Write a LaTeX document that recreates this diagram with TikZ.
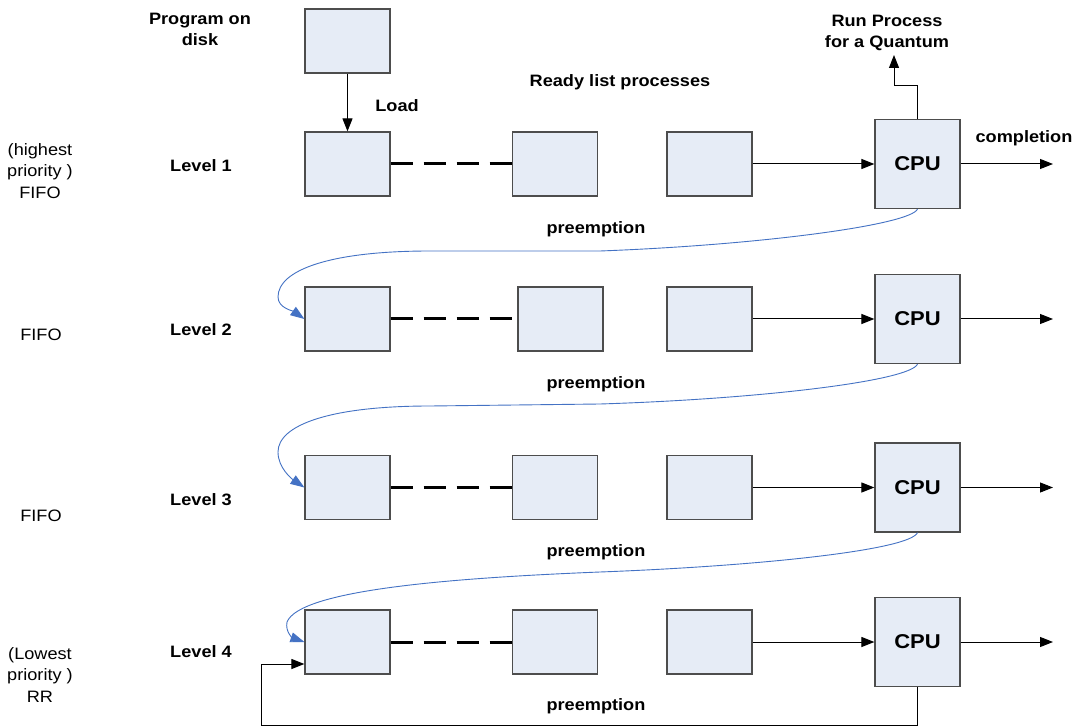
\documentclass[tikz,border=0pt]{standalone}
\usepackage{fontspec}
\setmainfont[FakeStretch=1.1]{Liberation Sans}
\usetikzlibrary{arrows.meta}
\definecolor{boxfill}{RGB}{230,236,246}
\definecolor{boxline}{RGB}{77,77,77}
\definecolor{flow}{RGB}{68,114,196}
\begin{document}
\begin{tikzpicture}[x=1pt,y=-1pt,
  proc/.style={draw=boxline, fill=boxfill, line width=1.2pt, minimum width=85pt, minimum height=64pt, inner sep=0pt},
  cpu/.style={proc, minimum height=89pt, font=\bfseries\fontsize{20}{24}\selectfont},
  lbl/.style={font=\bfseries\fontsize{16.5}{21.5}\selectfont, align=center, inner sep=0pt},
  note/.style={font=\fontsize{16.5}{21.5}\selectfont, align=center, inner sep=0pt},
  arr/.style={line width=1pt, -{Triangle[length=13pt,width=10pt]}},
  gap/.style={line width=3pt, dash pattern=on 22pt off 11pt},
  back/.style={draw=flow, line width=0.9pt, -{Triangle[length=14pt,width=10pt]}}
]
\fill[white] (0,0) rectangle (1074,727);
\useasboundingbox (0,0) rectangle (1074,727);

% program on disk and loading into level 1
\node[proc] (disk) at (347.5,41) {};
\node[lbl] (disklbl) at (200,29.5) {Program on\\disk};
\node[lbl] (loadlbl) at (397,106) {Load};
\node[lbl] (readylbl) at (620,82) {Ready list processes};

% the four ready queues
\foreach \r/\y/\bx/\ly/\py in {1/164/555/166/229, 2/319/560.5/329.5/384, 3/487.5/555/500/552, 4/642/555/652/706}{
  \node[proc] (a\r) at (347.5,\y) {};
  \node[proc] (b\r) at (\bx,\y) {};
  \node[proc] (c\r) at (709.5,\y) {};
  \node[cpu] (cpu\r) at (917.5,\y) {CPU};
  \coordinate (out\r) at (1053,\y);
  \node[lbl] (lv\r) at (201,\ly) {Level \r};
  \node[lbl] (pre\r) at (596,\py) {preemption};
  \draw[gap] (a\r.east) -- (b\r.west);
  \draw[arr] (c\r.east) -- (cpu\r.west);
  \draw[arr] (cpu\r.east) -- (out\r);
}

\draw[arr] (disk.south) -- (a1.north);

% quantum run and completion
\coordinate (rp) at (894,55);
\draw[arr] (cpu1.north) -- (917.5,86) -| (rp);
\node[lbl] (runlbl) at (887,33) {Run Process\\for a Quantum};
\node[lbl] (donelbl) at (1024,138) {completion};

% scheduling policy of each level
\node[note] (pri1) at (40,171) {(highest\\priority )\\FIFO};
\node[note] (pri2) at (41,335) {FIFO};
\node[note] (pri3) at (41,516) {FIFO};
\node[note] (pri4) at (40,675) {(Lowest\\priority )\\RR};

% preemption moves a process one level down
\draw[back] (cpu1.south) .. controls (910,225) and (760,245) .. (600,251)
  -- (430,251) .. controls (330,251) and (278,270) .. (278,297)
  .. controls (278,308) and (293,311) .. (a2.west);
\draw[back] (cpu2.south) .. controls (910,381) and (760,399) .. (600,404)
  -- (430,406) .. controls (330,406) and (278,425) .. (278,452)
  .. controls (278,468) and (292,479) .. (a3.west);
\draw[back] (cpu3.south) .. controls (910,550) and (760,566) .. (600,572)
  .. controls (450,578) and (300,590) .. (287,622)
  .. controls (285,632) and (293,638) .. (a4.west);

% lowest level: round robin back to its own queue
\draw[arr] (cpu4.south) -- (917.5,725) -| (261,664) -- ([yshift=-22pt]a4.west);
\end{tikzpicture}
\end{document}
